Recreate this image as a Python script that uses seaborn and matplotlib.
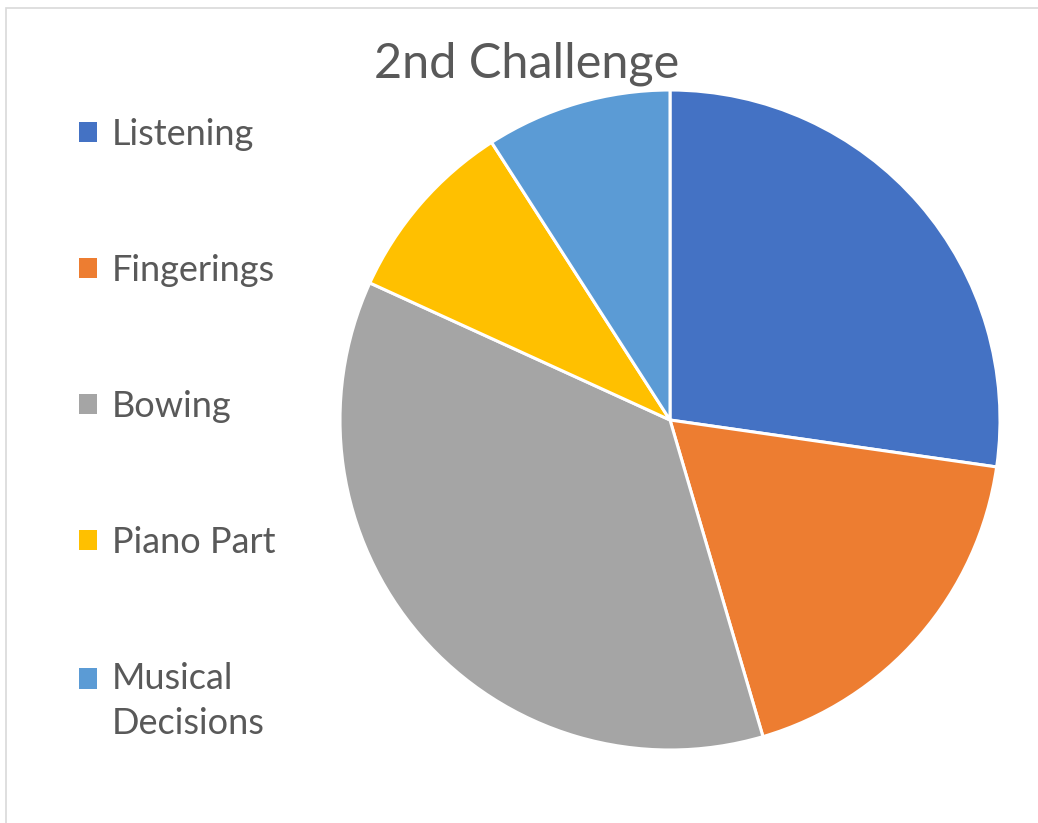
import matplotlib
matplotlib.use("Agg")
import matplotlib.pyplot as plt
import seaborn as sns
from matplotlib.patches import Rectangle
from matplotlib.legend_handler import HandlerPatch

categories = ["Listening", "Fingerings", "Bowing", "Piano Part", "Musical\nDecisions"]
values = [3, 2, 4, 1, 1]
colors = ["#4472C4", "#ED7D31", "#A5A5A5", "#FFC000", "#5B9BD5"]
title = "2nd Challenge"

sns.set_theme(style="white")
plt.rcParams["font.family"] = ["Lato", "DejaVu Sans"]
palette = sns.color_palette(colors)

W, H = 1038, 823
fig = plt.figure(figsize=(W / 100, H / 100), dpi=100)
fig.patch.set_facecolor("white")

ax = fig.add_axes([340 / W, 73 / H, 660 / W, 660 / H])
wedges, _ = ax.pie(values, colors=palette, startangle=90, counterclock=False,
                   radius=1, wedgeprops=dict(edgecolor="white", linewidth=2.2))
ax.set_xlim(-1, 1)
ax.set_ylim(-1, 1)
ax.set_aspect("equal")
ax.axis("off")

fig.text(527 / W, 1 - 78 / H, title, ha="center", va="baseline",
         fontsize=35, color="#595959")

fs = 26
shift_pt = 23 * 0.72


def square(legend, orig_handle, xdescent, ydescent, width, height, fontsize):
    return Rectangle((-xdescent, -ydescent), width, height)


def shifted_square(legend, orig_handle, xdescent, ydescent, width, height, fontsize):
    return Rectangle((-xdescent, -ydescent + shift_pt), width, height)


hmap = {w: HandlerPatch(patch_func=square) for w in wedges[:-1]}
hmap[wedges[-1]] = HandlerPatch(patch_func=shifted_square)

leg = fig.legend(wedges, categories, loc="upper left",
                 bbox_to_anchor=(79 / W, 1 - 118 / H), frameon=False,
                 fontsize=fs, handlelength=0.5, handleheight=0.5,
                 handletextpad=0.4, labelspacing=2.85, borderpad=0,
                 borderaxespad=0, labelcolor="#595959", handler_map=hmap)
for h in leg.legend_handles:
    h.set_edgecolor("none")
    h.set_linewidth(0)
leg.get_texts()[-1].set_linespacing(1.47)

fig.add_artist(Rectangle((6 / W, -0.1), 2, 1 - 8 / H + 0.1,
                         transform=fig.transFigure, fill=False,
                         edgecolor="#D9D9D9", linewidth=1.2))

fig.savefig("out.png", dpi=100)
